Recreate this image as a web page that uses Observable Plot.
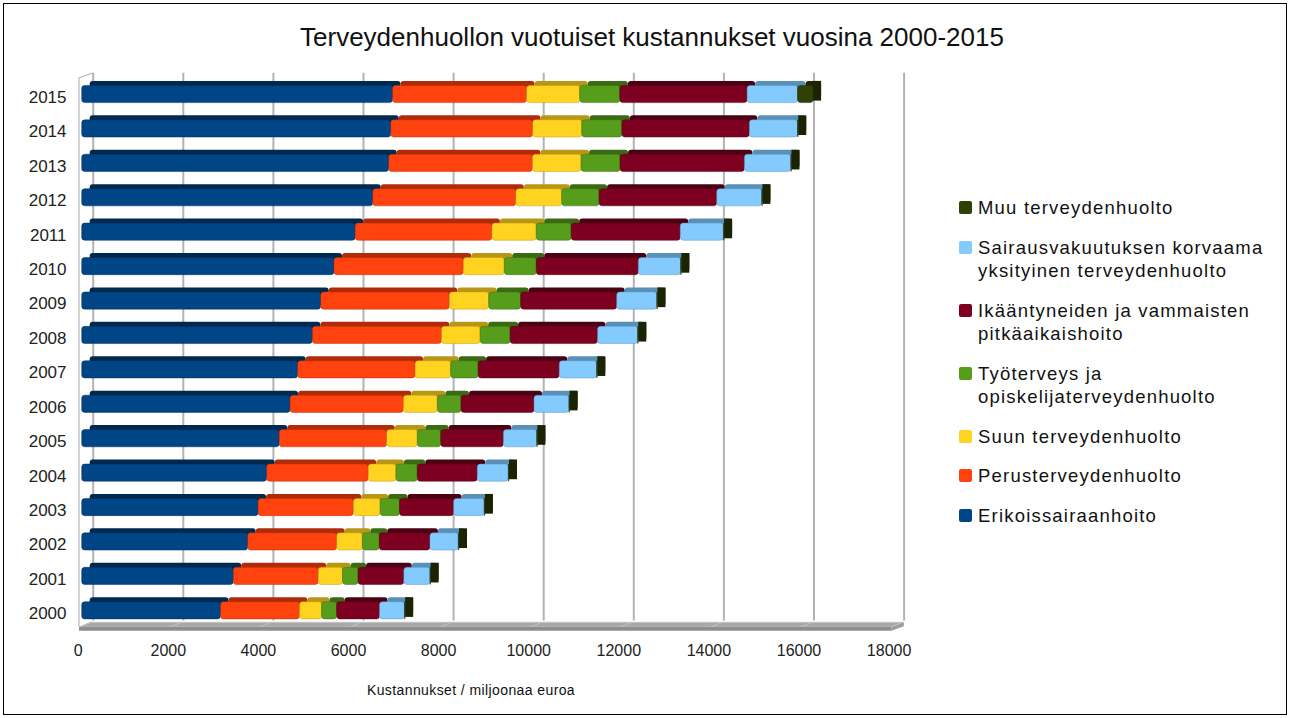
<!DOCTYPE html>
<html>
<head>
<meta charset="utf-8">
<script src="https://cdn.jsdelivr.net/npm/d3@7"></script>
<script src="https://cdn.jsdelivr.net/npm/@observablehq/plot@0.6"></script>
<style>
  body { margin: 0; background: #fff; }
  #wrap { position: relative; width: 1290px; height: 718px; background: #fff; font-family: "Liberation Sans", Arial, sans-serif; color: #000; overflow: hidden; }
  #border { position: absolute; left: 3px; top: 3px; width: 1284px; height: 712px; border: 1px solid #000; box-sizing: border-box; }
  #title { position: absolute; top: 21px; left: 14px; width: 1276px; text-align: center; font-size: 26px; line-height: 32px; color: #111; }
  #chart { position: absolute; left: 0; top: 60px; }
  #xlabel { position: absolute; left: 321px; width: 300px; top: 681px; text-align: center; font-size: 14px; line-height: 18px; letter-spacing: 0.4px; color: #111; }
  #legend { position: absolute; left: 959px; top: 196px; font-size: 18.5px; line-height: 23.5px; letter-spacing: 1.2px; color: #111; }
  .item { display: flex; align-items: flex-start; margin-bottom: 16px; }
  .sw { width: 13px; height: 13px; border-radius: 2px; margin-top: 5px; margin-right: 6px; flex: none; }
</style>
</head>
<body>
<div id="wrap">
  <div id="border"></div>
  <div id="title">Terveydenhuollon vuotuiset kustannukset vuosina 2000-2015</div>
  <div id="chart"></div>
  <div id="xlabel">Kustannukset / miljoonaa euroa</div>
  <div id="legend"></div>
</div>
<script>
// ---- data (miljoonaa euroa) ----
const years = ["2000","2001","2002","2003","2004","2005","2006","2007","2008","2009","2010","2011","2012","2013","2014","2015"];
const categories = [
  "Erikoissairaanhoito",
  "Perusterveydenhuolto",
  "Suun terveydenhuolto",
  "Työterveys ja opiskelijaterveydenhuolto",
  "Ikääntyneiden ja vammaisten pitkäaikaishoito",
  "Sairausvakuutuksen korvaama yksityinen terveydenhuolto",
  "Muu terveydenhuolto"
];
const legendLabels = [
  "Erikoissairaanhoito",
  "Perusterveydenhuolto",
  "Suun terveydenhuolto",
  "Työterveys ja<br>opiskelijaterveydenhuolto",
  "Ikääntyneiden ja vammaisten<br>pitkäaikaishoito",
  "Sairausvakuutuksen korvaama<br>yksityinen terveydenhuolto",
  "Muu terveydenhuolto"
];
const erikoissairaanhoito = [3080, 3365, 3685, 3915, 4105, 4385, 4625, 4795, 5120, 5305, 5600, 6070, 6460, 6815, 6860, 6900];
const perusterveydenhuolto = [1755, 1885, 1975, 2115, 2255, 2385, 2515, 2605, 2865, 2855, 2870, 3035, 3175, 3190, 3150, 2975];
const suunTerveydenhuolto = [490, 540, 570, 595, 615, 680, 755, 790, 860, 875, 910, 985, 1020, 1080, 1090, 1180];
const tyoterveys = [335, 345, 375, 430, 475, 520, 525, 610, 665, 710, 710, 775, 830, 865, 890, 890];
const pitkaaikaishoito = [950, 1015, 1125, 1200, 1330, 1390, 1620, 1800, 1940, 2130, 2265, 2420, 2610, 2760, 2830, 2825];
const sairausvakuutus = [555, 580, 630, 680, 690, 740, 775, 830, 890, 890, 940, 960, 1000, 1030, 1070, 1120];
const muuTerveydenhuolto = [15, 15, 15, 15, 15, 15, 15, 15, 15, 15, 15, 15, 15, 15, 15, 345];
const xTicks = [0, 2000, 4000, 6000, 8000, 10000, 12000, 14000, 16000, 18000];

const colors = ["#004586", "#ff420e", "#ffd320", "#579d1c", "#7e0021", "#83caff", "#314004"];
const topColors = ["#00294f", "#b02c08", "#b89716", "#3a6a12", "#4c0013", "#5a8fb8", "#1d2602"];
const sideColor = "#1a2402";

const series = [erikoissairaanhoito, perusterveydenhuolto, suunTerveydenhuolto, tyoterveys, pitkaaikaishoito, sairausvakuutus, muuTerveydenhuolto];

const rows = [];
years.forEach((y, i) => {
  let acc = 0;
  series.forEach((s, j) => {
    const x1 = acc; acc += s[i];
    rows.push({year: y, cat: categories[j], ci: j, x1, x2: acc, value: s[i]});
  });
});
const totals = years.map((y, i) => ({year: y, total: d3.sum(series, s => s[i])}));

const chart = Plot.plot({
  width: 940,
  height: 650,
  marginLeft: 81.7,
  marginRight: 47.4,
  marginTop: 16.8,
  marginBottom: 82.5,
  x: {domain: [0, 18000]},
  y: {domain: years.slice().reverse(), paddingInner: 0.5, paddingOuter: 0.25, round: false},
  style: {fontFamily: "'Liberation Sans', Arial, sans-serif", fontSize: "16px", color: "#222", background: "transparent", overflow: "visible"},
  marks: [
    Plot.ruleX(xTicks, {stroke: "#b3b3b3", strokeWidth: 2, dx: 11, dy: -4, insetBottom: 3}),
    ...categories.map((c, j) => Plot.barX(rows.filter(r => r.ci === j), {x1: "x1", x2: "x2", y: "year", fill: topColors[j], dx: 8, dy: -4.5, rx: 3})),
    Plot.barX(totals, {x1: "total", x2: "total", y: "year", fill: sideColor, insetRight: -8, insetTop: -4.5, insetBottom: 2}),
    ...categories.map((c, j) => Plot.barX(rows.filter(r => r.ci === j), {x1: "x1", x2: "x2", y: "year", fill: colors[j], stroke: topColors[j], strokeOpacity: 0.45, strokeWidth: 1, rx: 3})),
    Plot.axisX({ticks: xTicks, tickSize: 0, tickPadding: 17, dx: -4, label: null, tickFormat: d => String(d)}),
    Plot.axisY({tickSize: 0, tickPadding: 15.7, dy: 3, label: null, fontSize: 17})
  ]
});

// floor and side wall drawn with the plot's own x scale
const xs = chart.scale("x");
const X = v => xs.apply(v);
const svg = d3.select(chart);
const g = svg.append("g");
const x0f = X(0) - 2.7, x1f = X(18000) - 1;
const yBack = 562.3, yFront = 566.7, yBottom = 570.7;
g.append("polygon").attr("points", `${x0f},${yFront} ${x0f + 11},${yBack} ${x1f + 12.3},${yBack} ${x1f},${yFront}`).attr("fill", "#a8a8a8");
g.append("polygon").attr("points", `${x0f},${yFront} ${x1f},${yFront} ${x1f},${yBottom} ${x0f},${yBottom}`).attr("fill", "#8e8e8e");
g.append("polygon").attr("points", `${x1f},${yFront} ${x1f + 12.3},${yBack} ${x1f + 12.3},${yBack + 4} ${x1f},${yBottom}`).attr("fill", "#9c9c9c");
g.append("line").attr("x1", x0f + 11).attr("x2", x1f + 12.3).attr("y1", yBack).attr("y2", yBack).attr("stroke", "#c4c4c4").attr("stroke-width", 1);
xTicks.forEach(v => {
  g.append("line").attr("x1", X(v) - 1.5).attr("y1", yFront).attr("x2", X(v) + 10).attr("y2", yBack).attr("stroke", "#c0c0c0").attr("stroke-width", 1);
});
g.append("polyline").attr("points", `${x0f},${yFront} ${x0f},18 ${X(0) + 11},13`).attr("fill", "none").attr("stroke", "#b8b8b8").attr("stroke-width", 1.2);

document.getElementById("chart").appendChild(chart);

// legend (top to bottom: reverse order of stacking)
const legend = d3.select("#legend");
for (let j = categories.length - 1; j >= 0; j--) {
  const it = legend.append("div").attr("class", "item");
  it.append("div").attr("class", "sw").style("background", colors[j]);
  it.append("div").html(legendLabels[j]);
}
</script>
</body>
</html>
